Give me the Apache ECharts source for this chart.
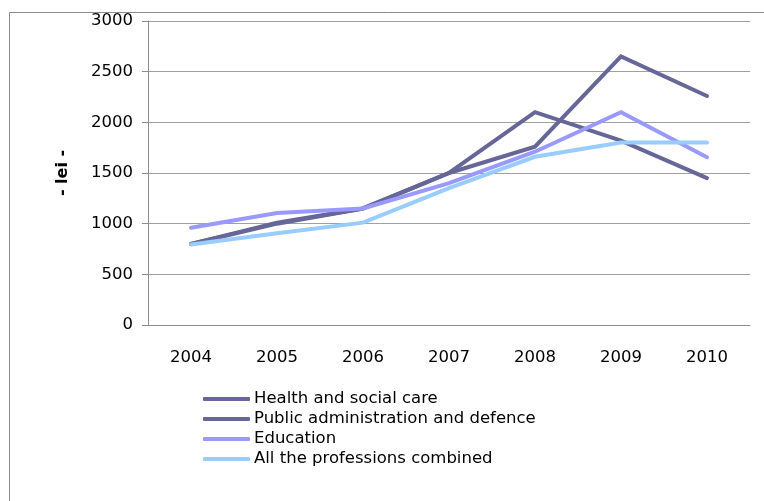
<!DOCTYPE html>
<html>
<head>
<meta charset="utf-8">
<script src="https://cdn.jsdelivr.net/npm/echarts@6/dist/echarts.min.js"></script>
<style>
  html, body { margin: 0; padding: 0; background: #fff; }
  #chart { width: 764px; height: 501px; }
</style>
</head>
<body>
<div id="chart"></div>
<script>
var years = ['2004', '2005', '2006', '2007', '2008', '2009', '2010'];
var healthCare = [800, 1010, 1150, 1500, 2100, 1820, 1450];
var publicAdmin = [800, 1000, 1150, 1500, 1760, 2650, 2260];
var education = [960, 1105, 1150, 1400, 1710, 2100, 1655];
var allProfessions = [795, 905, 1010, 1350, 1660, 1800, 1800];
var seriesNames = ['Health and social care', 'Public administration and defence', 'Education', 'All the professions combined'];
var colors = ['#666699', '#666699', '#9999ff', '#99ccff'];

var chart = echarts.init(document.getElementById('chart'));

function lineSeries(name, data, color) {
    return {
        name: name,
        type: 'line',
        data: data,
        symbol: 'none',
        color: color,
        lineStyle: { width: 4, color: color, cap: 'round', join: 'miter' },
        emphasis: { disabled: true }
    };
}

var option = {
    animation: false,
    textStyle: { fontFamily: 'DejaVu Sans' },
    graphic: [{
        type: 'rect',
        shape: { x: 9.5, y: 12.5, width: 800, height: 600 },
        style: { fill: null, stroke: '#8c8c8c', lineWidth: 1 },
        silent: true
    }],
    grid: { left: 148, right: 14, top: 21, bottom: 176 },
    legend: {
        orient: 'vertical',
        left: 203,
        top: 389,
        icon: 'roundRect',
        itemWidth: 47,
        itemHeight: 4,
        itemGap: 0,
        padding: 0,
        textStyle: { fontFamily: 'DejaVu Sans', fontSize: 16.5, color: '#000', lineHeight: 20, padding: [0, 0, 0, -1] },
        data: seriesNames
    },
    xAxis: {
        type: 'category',
        data: years,
        boundaryGap: true,
        axisLine: { lineStyle: { color: '#8c8c8c', width: 1 } },
        axisTick: { length: 7, lineStyle: { color: '#8c8c8c' } },
        axisLabel: { color: '#000', fontFamily: 'DejaVu Sans', fontSize: 16.5, margin: 24 },
        splitLine: { show: false }
    },
    yAxis: {
        type: 'value',
        min: 0,
        max: 3000,
        interval: 500,
        name: '- lei -',
        nameLocation: 'middle',
        nameRotate: 90,
        nameGap: 77,
        nameTextStyle: { fontFamily: 'DejaVu Sans', fontSize: 16, fontWeight: 'bold', color: '#000' },
        axisLine: { show: true, lineStyle: { color: '#8c8c8c', width: 1 } },
        axisTick: { show: true, length: 6, lineStyle: { color: '#8c8c8c' } },
        axisLabel: {
            color: '#000', fontFamily: 'DejaVu Sans', fontSize: 16.5, margin: 15,
            formatter: function (v) { return String(v); }
        },
        splitLine: { lineStyle: { color: '#a0a0a0', width: 1 } }
    },
    series: [
        lineSeries(seriesNames[0], healthCare, colors[0]),
        lineSeries(seriesNames[1], publicAdmin, colors[1]),
        lineSeries(seriesNames[2], education, colors[2]),
        lineSeries(seriesNames[3], allProfessions, colors[3])
    ]
};

chart.setOption(option);
</script>
</body>
</html>
